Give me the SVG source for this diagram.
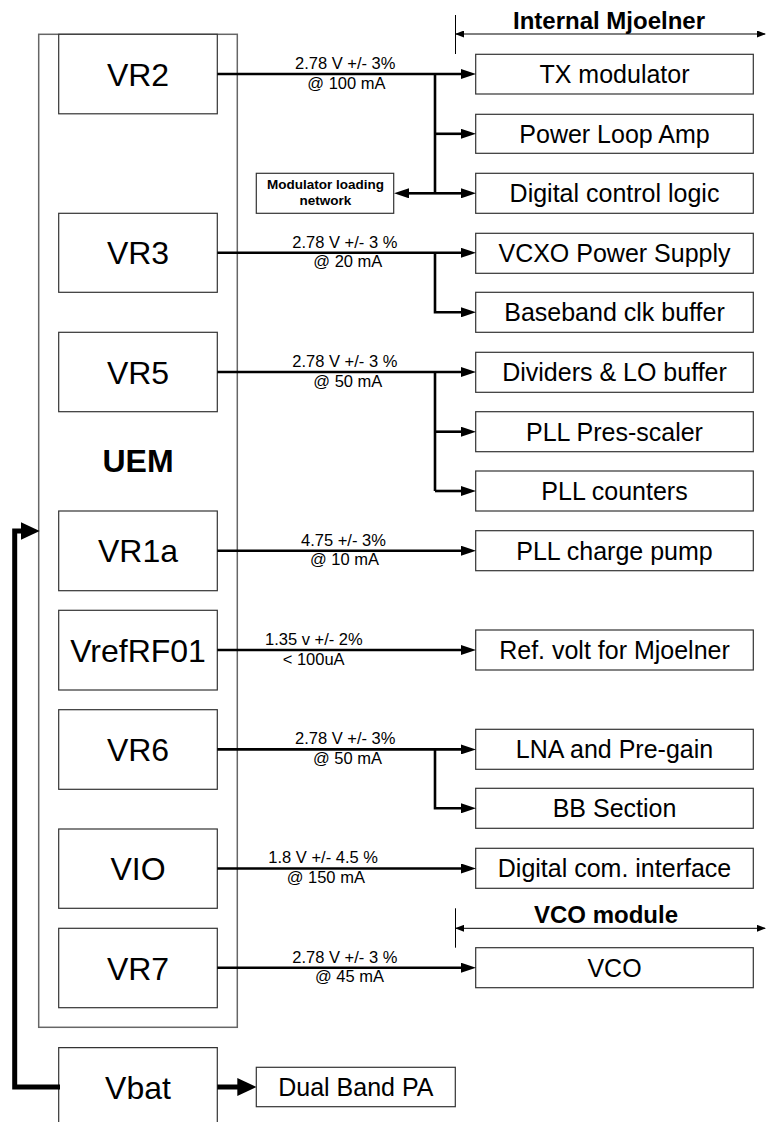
<svg xmlns="http://www.w3.org/2000/svg" width="766" height="1122" viewBox="0 0 766 1122">
<defs>
<style>
text{font-family:"Liberation Sans",Arial,sans-serif;fill:#000}
.big{font-size:32px;text-anchor:middle}
.uem{font-size:32px;font-weight:bold;text-anchor:middle}
.rb{font-size:25px;text-anchor:middle}
.lab{font-size:16.5px}
.hdr{font-size:24px;font-weight:bold;text-anchor:middle}
.mln{font-size:13.5px;font-weight:bold;text-anchor:middle}
.box{fill:#fff;stroke:#333;stroke-width:1.2}
.uembox{fill:none;stroke:#666;stroke-width:1.5}
.wire{fill:none;stroke:#000;stroke-width:2.6}
.arr{fill:none;stroke:#000;stroke-width:2.6;marker-end:url(#ah)}
.thick{fill:none;stroke:#000;stroke-width:5;marker-end:url(#ahb)}
.dim{fill:none;stroke:#000;stroke-width:1;marker-start:url(#hs);marker-end:url(#hs)}
.tick{fill:none;stroke:#000;stroke-width:1}
</style>
<marker id="ah" markerUnits="userSpaceOnUse" markerWidth="15" markerHeight="10" refX="5" refY="5" orient="auto">
<path d="M0,0 L15,5 L0,10 z" fill="#000"/>
</marker>
<marker id="ahb" markerUnits="userSpaceOnUse" markerWidth="19" markerHeight="18" refX="6" refY="9" orient="auto">
<path d="M0,0 L19,9 L0,18 z" fill="#000"/>
</marker>
<marker id="hs" markerUnits="userSpaceOnUse" markerWidth="9" markerHeight="7" refX="8" refY="3.5" orient="auto-start-reverse">
<path d="M0,0 L9,3.5 L0,7 z" fill="#000"/>
</marker>
</defs>

<g id="uem">
<rect class="uembox" x="38.7" y="34.3" width="198.6" height="993"/>
<text class="uem" x="138" y="472">UEM</text>
</g>

<g id="vr2"><rect class="box" x="58.7" y="34.3" width="158.6" height="79.5"/><text class="big" x="138" y="85.5">VR2</text></g>
<g id="vr3"><rect class="box" x="58.7" y="213.3" width="158.6" height="79"/><text class="big" x="138" y="264.3">VR3</text></g>
<g id="vr5"><rect class="box" x="58.7" y="332.3" width="158.6" height="79.4"/><text class="big" x="138" y="383.5">VR5</text></g>
<g id="vr1a"><rect class="box" x="58.7" y="511" width="158.6" height="79.7"/><text class="big" x="138" y="562.2">VR1a</text></g>
<g id="vrefrf01"><rect class="box" x="58.7" y="610.3" width="158.6" height="79.7"/><text class="big" x="138" y="661.5">VrefRF01</text></g>
<g id="vr6"><rect class="box" x="58.7" y="709.7" width="158.6" height="79.6"/><text class="big" x="138" y="760.9">VR6</text></g>
<g id="vio"><rect class="box" x="58.7" y="829" width="158.6" height="79.3"/><text class="big" x="138" y="880.2">VIO</text></g>
<g id="vr7"><rect class="box" x="58.7" y="928.3" width="158.6" height="79.4"/><text class="big" x="138" y="979.5">VR7</text></g>
<g id="vbat"><path class="box" d="M58.7,1122 V1047.7 H217.3 V1122" fill="#fff"/><text class="big" x="138" y="1098.5">Vbat</text></g>

<g id="tx-modulator"><rect class="box" x="475.7" y="54.3" width="277.6" height="39.7"/><text class="rb" x="614.5" y="83">TX modulator</text></g>
<g id="power-loop-amp"><rect class="box" x="475.7" y="114.3" width="277.6" height="39"/><text class="rb" x="614.5" y="142.7">Power Loop Amp</text></g>
<g id="digital-control-logic"><rect class="box" x="475.7" y="173.3" width="277.6" height="40"/><text class="rb" x="614.5" y="202.2">Digital control logic</text></g>
<g id="vcxo-power-supply"><rect class="box" x="475.7" y="233.3" width="277.6" height="40"/><text class="rb" x="614.5" y="262.2">VCXO Power Supply</text></g>
<g id="baseband-clk-buffer"><rect class="box" x="475.7" y="292.3" width="277.6" height="40"/><text class="rb" x="614.5" y="321.2">Baseband clk buffer</text></g>
<g id="dividers-lo-buffer"><rect class="box" x="475.7" y="352.3" width="277.6" height="40"/><text class="rb" x="614.5" y="381.2">Dividers &amp; LO buffer</text></g>
<g id="pll-pres-scaler"><rect class="box" x="475.7" y="411.7" width="277.6" height="40"/><text class="rb" x="614.5" y="440.6">PLL Pres-scaler</text></g>
<g id="pll-counters"><rect class="box" x="475.7" y="471" width="277.6" height="40"/><text class="rb" x="614.5" y="499.9">PLL counters</text></g>
<g id="pll-charge-pump"><rect class="box" x="475.7" y="530.7" width="277.6" height="40"/><text class="rb" x="614.5" y="559.6">PLL charge pump</text></g>
<g id="ref-volt"><rect class="box" x="475.7" y="630" width="277.6" height="40"/><text class="rb" x="614.5" y="658.9">Ref. volt for Mjoelner</text></g>
<g id="lna-pre-gain"><rect class="box" x="475.7" y="729.3" width="277.6" height="40"/><text class="rb" x="614.5" y="758.2">LNA and Pre-gain</text></g>
<g id="bb-section"><rect class="box" x="475.7" y="788.3" width="277.6" height="40"/><text class="rb" x="614.5" y="817.2">BB Section</text></g>
<g id="digital-com-interface"><rect class="box" x="475.7" y="848.3" width="277.6" height="40"/><text class="rb" x="614.5" y="877.2">Digital com. interface</text></g>
<g id="vco"><rect class="box" x="475.7" y="947.7" width="277.6" height="40"/><text class="rb" x="614.5" y="976.6">VCO</text></g>

<g id="modulator-loading-network"><rect class="box" x="256.3" y="173.3" width="137.4" height="40"/><text class="mln" x="325.5" y="188.7">Modulator loading</text><text class="mln" x="325.5" y="204.7">network</text></g>
<g id="dual-band-pa"><rect class="box" x="256.3" y="1067.3" width="199" height="39.4"/><text class="rb" x="355.8" y="1096">Dual Band PA</text></g>

<g id="internal-mjoelner">
<line class="tick" x1="455.5" y1="15" x2="455.5" y2="54"/>
<line class="dim" x1="456" y1="34" x2="765" y2="34"/>
<text class="hdr" x="609" y="28.5">Internal Mjoelner</text>
</g>
<g id="vco-module">
<line class="tick" x1="455.5" y1="908.3" x2="455.5" y2="947.7"/>
<line class="dim" x1="456" y1="928.3" x2="765" y2="928.3"/>
<text class="hdr" x="606" y="923.3">VCO module</text>
</g>

<g id="connectors">
<line class="arr" x1="217.3" y1="74" x2="466" y2="74"/>
<line class="wire" x1="435" y1="74" x2="435" y2="193.3"/>
<line class="arr" x1="435" y1="133.8" x2="466" y2="133.8"/>
<line class="arr" x1="435" y1="193.3" x2="466" y2="193.3"/>
<line class="arr" x1="435" y1="193.3" x2="404" y2="193.3"/>

<line class="arr" x1="217.3" y1="252.8" x2="466" y2="252.8"/>
<polyline class="arr" points="435,252.8 435,312.3 466,312.3"/>

<line class="arr" x1="217.3" y1="372" x2="466" y2="372"/>
<line class="wire" x1="435" y1="372" x2="435" y2="491"/>
<line class="arr" x1="435" y1="431.7" x2="466" y2="431.7"/>
<polyline class="arr" points="435,491 466,491"/>

<line class="arr" x1="217.3" y1="550.7" x2="466" y2="550.7"/>
<line class="arr" x1="217.3" y1="650" x2="466" y2="650"/>

<line class="arr" x1="217.3" y1="749.4" x2="466" y2="749.4"/>
<polyline class="arr" points="435,749.4 435,808.3 466,808.3"/>

<line class="arr" x1="217.3" y1="868.5" x2="466" y2="868.5"/>
<line class="arr" x1="217.3" y1="967.7" x2="466" y2="967.7"/>

<line class="thick" x1="217.3" y1="1087" x2="243.3" y2="1087"/>
<polyline class="thick" points="60,1087 14.7,1087 14.7,531 26.7,531"/>

<text class="lab" x="295" y="69">2.78 V +/- 3%</text>
<text class="lab" x="307.3" y="88.5">@ 100 mA</text>
<text class="lab" x="292.3" y="247.8">2.78 V +/- 3 %</text>
<text class="lab" x="313.3" y="267.3">@ 20 mA</text>
<text class="lab" x="292.3" y="367">2.78 V +/- 3 %</text>
<text class="lab" x="313.3" y="386.5">@ 50 mA</text>
<text class="lab" x="301" y="545.7">4.75 +/- 3%</text>
<text class="lab" x="310" y="565">@ 10 mA</text>
<text class="lab" x="265" y="645">1.35 v +/- 2%</text>
<text class="lab" x="282.7" y="665">&lt; 100uA</text>
<text class="lab" x="295" y="744.4">2.78 V +/- 3%</text>
<text class="lab" x="313" y="763.9">@ 50 mA</text>
<text class="lab" x="268.3" y="863.3">1.8 V +/- 4.5 %</text>
<text class="lab" x="286.7" y="883.3">@ 150 mA</text>
<text class="lab" x="292.3" y="962.7">2.78 V +/- 3 %</text>
<text class="lab" x="315" y="982.2">@ 45 mA</text>
</g>
</svg>
